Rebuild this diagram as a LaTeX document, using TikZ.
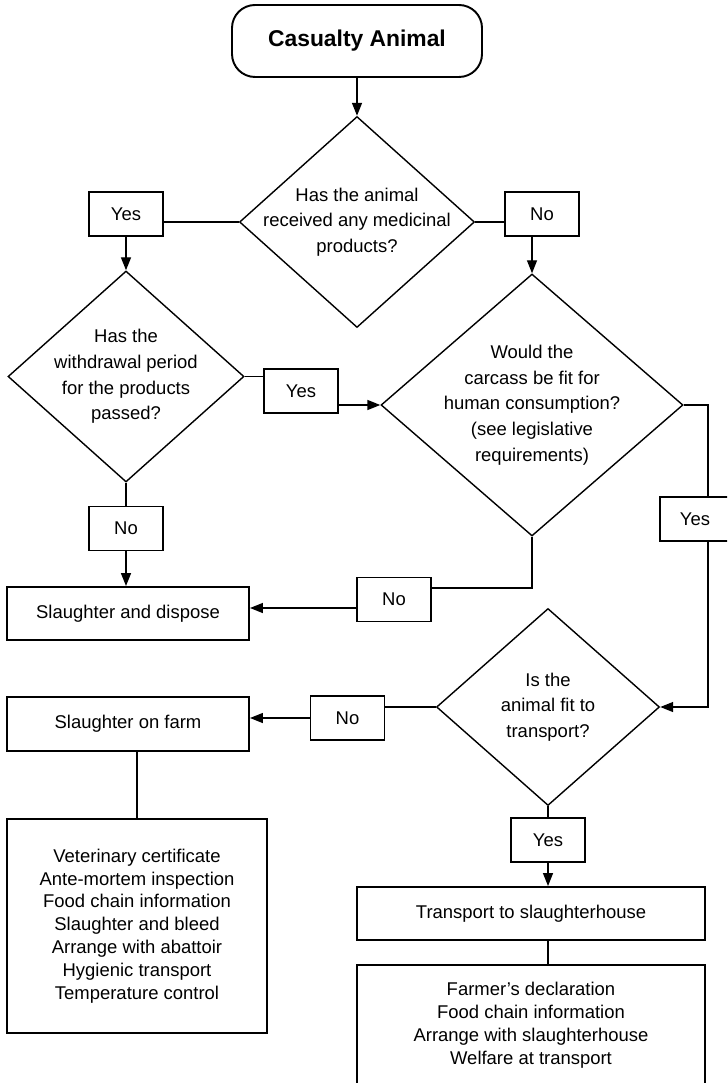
\documentclass[tikz,border=0pt]{standalone}
\usepackage{fontspec}
\setmainfont{Liberation Sans}
\usetikzlibrary{shapes.geometric, arrows.meta, positioning, calc}

\begin{document}
\begin{tikzpicture}[
    x=0.2mm, y=-0.2mm,
    answer/.style={rectangle, draw, line width=1.1pt, minimum width=14.8mm, minimum height=8.8mm, font=\fontsize{10.5}{12}\selectfont},
    action/.style={rectangle, draw, line width=1.1pt, minimum width=48.4mm, minimum height=10.6mm, font=\fontsize{10.5}{12}\selectfont},
    tasks/.style={rectangle, draw, line width=1.1pt, align=center, font=\fontsize{10.5}{13}\selectfont},
    question/.style={align=center, font=\fontsize{10.5}{14.6}\selectfont},
    decision/.style={diamond, draw, line width=0.8pt, inner sep=0pt, label={[question]center:#1}},
    link/.style={line width=0.8pt},
    flow/.style={line width=0.8pt, -{Triangle[length=2.6mm, width=2mm]}},
    ]
\useasboundingbox (0,0) rectangle (727,1083);
\clip (0,0) rectangle (727,1083);

% Start and the first question
\node[draw, line width=1.1pt, rounded corners=4.6mm, minimum width=50mm, minimum height=14.4mm, font=\fontsize{13}{15}\selectfont\bfseries] (start) at (357,41) {Casualty Animal};
\node[decision={Has the animal\\received any medicinal\\products?}, minimum width=47mm, minimum height=42.2mm] (medicine) at (357,222) {};
\node[answer] (medYes) at (126,214) {Yes};
\node[answer] (medNo) at (542,214) {No};

% Withdrawal period and carcass
\node[decision={Has the\\withdrawal period\\for the products\\passed?}, minimum width=47.2mm, minimum height=42.2mm] (withdrawal) at (126,376.5) {};
\node[answer] (wdYes) at (301,391) {Yes};
\node[answer] (wdNo) at (126,528.5) {No};
\node[decision={Would the\\carcass be fit for\\human consumption?\\(see legislative\\requirements)}, minimum width=60.4mm, minimum height=52.4mm] (carcass) at (532,405) {};
\node[answer, minimum width=14mm] (fitYes) at (695,519) {Yes};
\node[answer] (fitNo) at (394,599.5) {No};
\node[action] (dispose) at (128,613.5) {Slaughter and dispose};

% Fit to transport
\node[decision={Is the\\animal fit to\\transport?}, minimum width=44.6mm, minimum height=39.4mm] (transport) at (548,707) {};
\node[answer] (trNo) at (347.5,718) {No};
\node[answer] (trYes) at (548,840) {Yes};
\node[action, minimum height=10.8mm] (farm) at (128,724) {Slaughter on farm};
\node[tasks, minimum width=52mm, minimum height=42.8mm] (farmTasks) at (137,926) {Veterinary certificate\\Ante-mortem inspection\\Food chain information\\Slaughter and bleed\\Arrange with abattoir\\Hygienic transport\\Temperature control};
\node[action, minimum width=69.6mm] (haul) at (531,913.5) {Transport to slaughterhouse};
\node[tasks, minimum width=69.6mm, minimum height=24mm] (haulTasks) at (531,1025) {Farmer’s declaration\\Food chain information\\Arrange with slaughterhouse\\Welfare at transport};

% Connectors
\draw[flow] (start.south) -- (medicine.north);
\draw[link] (medicine.west) -- (medicine.west -| medYes.east);
\draw[flow] (medYes.south) -- (withdrawal.north);
\draw[link] (medicine.east) -- (medicine.east -| medNo.west);
\draw[flow] (carcass.north |- medNo.south) -- (carcass.north);
\draw[link] (withdrawal.east) -- (withdrawal.east -| wdYes.west);
\draw[flow] (wdYes.east |- carcass.west) -- (carcass.west);
\draw[link] (withdrawal.south) -- (wdNo.north);
\draw[flow] (wdNo.south) -- (wdNo.south |- dispose.north);
\draw[link] (carcass.south) |- ([yshift=2.3mm]fitNo.east);
\draw[flow] ([yshift=-1.7mm]fitNo.west) -- ([yshift=-1.7mm]fitNo.west -| dispose.east);
\draw[link] (carcass.east) -| ([xshift=2.6mm]fitYes.north);
\draw[flow] ([xshift=2.6mm]fitYes.south) |- (transport.east);
\draw[link] (transport.west) -- (transport.west -| trNo.east);
\draw[flow] (trNo.west) -- (trNo.west -| farm.east);
\draw[link] (transport.south) -- (trYes.north);
\draw[flow] (trYes.south) -- (trYes.south |- haul.north);
\draw[link] (trYes.south |- haul.south) -- (trYes.south |- haulTasks.north);
\draw[link] (farmTasks.north |- farm.south) -- (farmTasks.north);

\end{tikzpicture}
\end{document}
